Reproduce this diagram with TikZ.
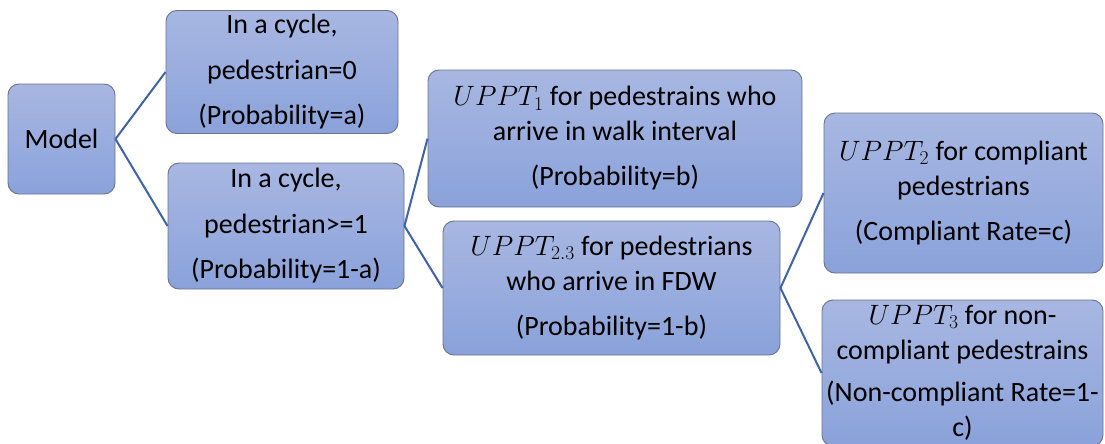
\documentclass[tikz,border=0pt]{standalone}
\usepackage{fix-cm}
\usepackage{fontspec}
\setmainfont{Carlito}
\usepackage{tikz}
\usetikzlibrary{shapes.geometric, arrows}

\definecolor{boxtop}{RGB}{168,183,226}
\definecolor{boxbottom}{RGB}{138,162,218}
\definecolor{boxline}{RGB}{105,115,140}
\definecolor{linkblue}{RGB}{62,98,172}

\begin{document}
\begin{tikzpicture}[
			x=1pt, y=-1pt,
			box/.style={
				rectangle,
				draw=boxline,
				line width=0.9pt,
				rounded corners=11pt,
				top color=boxtop,
				bottom color=boxbottom,
				inner xsep=2pt,
				inner ysep=0pt,
				align=center,
				font=\fontsize{28}{35}\selectfont
			},
			link/.style={
				draw=linkblue,
				line width=2pt
			}
			]
			
			\path[use as bounding box, clip] (0,0) rectangle (1105,444);
			
			\node (model) [box, minimum width=107pt, minimum height=110pt] at (61.5,139) {Model};
			\node (pzero) [box, minimum width=232pt, minimum height=123pt] at (282,72) {In a cycle,\\[11pt]pedestrian=0\\[10pt](Probability=a)};
			\node (pmore) [box, minimum width=236pt, minimum height=126pt] at (286,226) {In a cycle,\\[11pt]pedestrian>=1\\[10pt](Probability=1-a)};
			\node (walk) [box, minimum width=374pt, minimum height=137pt] at (615,138.5) {$UPPT_1$ for pedestrains who\\arrive in walk interval\\[10pt](Probability=b)};
			\node (fdw) [box, minimum width=337pt, minimum height=134pt] at (611.5,288) {$UPPT_{2.3}$ for pedestrians\\who arrive in FDW\\[10pt](Probability=1-b)};
			\node (comp) [box, minimum width=279pt, minimum height=160pt] at (963.5,193) {$UPPT_2$ for compliant\\pedestrians\\[10pt](Compliant Rate=c)};
			\node (noncomp) [box, minimum width=281pt, minimum height=146pt] at (962.5,373) {$UPPT_3$ for non-\\compliant pedestrains\\[7pt](Non-compliant Rate=1-\\c)};
			
			\draw [link] (model.east) -- (pzero.west);
			\draw [link] (model.east) -- (pmore.west);
			\draw [link] (pmore.east) -- (walk.west);
			\draw [link] (pmore.east) -- (fdw.west);
			\draw [link] (fdw.east) -- (comp.west);
			\draw [link] (fdw.east) -- (noncomp.west);
			
		\end{tikzpicture}
\end{document}
